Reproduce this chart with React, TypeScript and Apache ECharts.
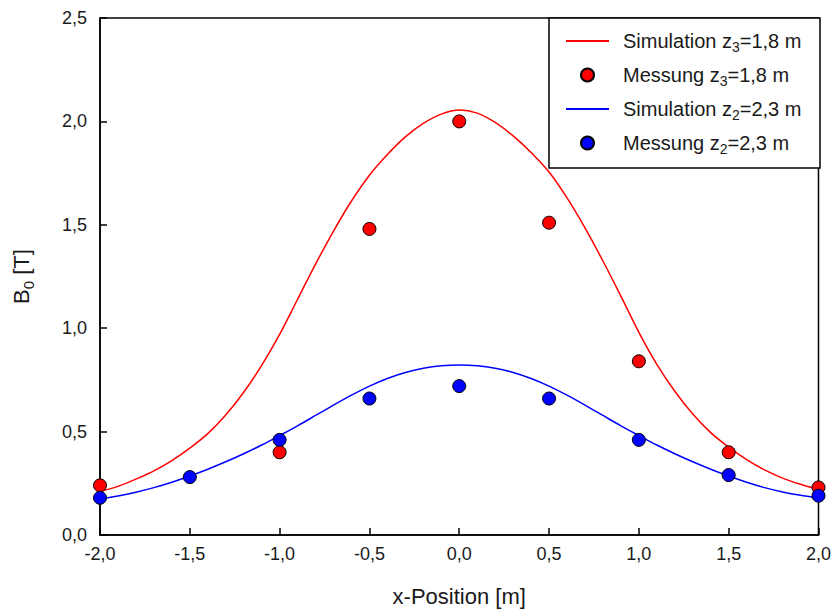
import React, { useEffect, useRef } from 'react';
import * as echarts from 'echarts';

const simX = [
  -2.0, -1.9, -1.8, -1.7, -1.6, -1.5, -1.4, -1.3, -1.2, -1.1, -1.0,
  -0.9, -0.8, -0.7, -0.6, -0.5, -0.4, -0.3, -0.2, -0.1, 0.0,
  0.1, 0.2, 0.3, 0.4, 0.5, 0.6, 0.7, 0.8, 0.9, 1.0,
  1.1, 1.2, 1.3, 1.4, 1.5, 1.6, 1.7, 1.8, 1.9, 2.0,
];
const redSim = [
  0.21, 0.235, 0.27, 0.31, 0.36, 0.42, 0.49, 0.58, 0.69, 0.82, 0.97,
  1.14, 1.31, 1.47, 1.615, 1.74, 1.84, 1.925, 1.99, 2.035, 2.055,
  2.04, 1.995, 1.93, 1.85, 1.755, 1.63, 1.485, 1.325, 1.155, 0.98,
  0.825, 0.695, 0.585, 0.495, 0.425, 0.365, 0.315, 0.275, 0.245, 0.22,
];
const blueSim = [
  0.175, 0.189, 0.207, 0.229, 0.255, 0.285, 0.318, 0.354, 0.393, 0.435, 0.481,
  0.528, 0.578, 0.628, 0.676, 0.72, 0.757, 0.786, 0.806, 0.818, 0.822,
  0.818, 0.806, 0.786, 0.757, 0.72, 0.676, 0.628, 0.578, 0.528, 0.481,
  0.435, 0.393, 0.354, 0.318, 0.285, 0.255, 0.229, 0.208, 0.192, 0.18,
];
const redMeasX = [-2.0, -1.0, -0.5, 0.0, 0.5, 1.0, 1.5, 2.0];
const redMeas = [0.24, 0.4, 1.48, 2.0, 1.51, 0.84, 0.4, 0.23];
const blueMeasX = [-2.0, -1.5, -1.0, -0.5, 0.0, 0.5, 1.0, 1.5, 2.0];
const blueMeas = [0.18, 0.28, 0.46, 0.66, 0.72, 0.66, 0.46, 0.29, 0.19];

const seriesNames = [
  'Simulation z3=1,8 m',
  'Messung z3=1,8 m',
  'Simulation z2=2,3 m',
  'Messung z2=2,3 m',
];
const legendRich = [
  'Simulation z{s|3}=1,8 m',
  'Messung z{s|3}=1,8 m',
  'Simulation z{s|2}=2,3 m',
  'Messung z{s|2}=2,3 m',
];

const FONT = 'Liberation Sans, Arial, sans-serif';
const TXT = '#1a1a1a';

const zip = (xs: number[], ys: number[]) => xs.map((x, i) => [x, ys[i]]);
const comma = (v: number) => v.toFixed(1).replace('.', ',');

export default function App() {
  const ref = useRef<HTMLDivElement>(null);
  useEffect(() => {
    const chart = echarts.init(ref.current!, null, { renderer: 'svg' });
    chart.setOption({
      animation: false,
      backgroundColor: '#ffffff',
      grid: {
        left: 100,
        top: 18,
        right: 14,
        bottom: 77,
        show: true,
        borderColor: '#000',
        borderWidth: 1.5,
        backgroundColor: 'transparent',
      },
      xAxis: {
        type: 'value',
        min: -2,
        max: 2,
        interval: 0.5,
        name: 'x-Position [m]',
        nameLocation: 'middle',
        nameGap: 50,
        nameTextStyle: { fontFamily: FONT, fontSize: 22, color: TXT },
        axisLine: { show: true, onZero: false, lineStyle: { color: '#000', width: 1.5 } },
        axisTick: { show: true, inside: true, length: 7, lineStyle: { color: '#000', width: 1.5 } },
        axisLabel: { formatter: comma, fontFamily: FONT, fontSize: 18, color: TXT, margin: 10 },
        splitLine: { show: false },
      },
      yAxis: {
        type: 'value',
        min: 0,
        max: 2.5,
        interval: 0.5,
        name: 'B{s|0} [T]',
        nameLocation: 'middle',
        nameGap: 64,
        nameTextStyle: {
          fontFamily: FONT,
          fontSize: 22,
          color: TXT,
          rich: { s: { fontFamily: FONT, fontSize: 15, color: TXT, padding: [14, 0, 0, 0] } },
        },
        axisLine: { show: true, onZero: false, lineStyle: { color: '#000', width: 1.5 } },
        axisTick: { show: true, inside: true, length: 7, lineStyle: { color: '#000', width: 1.5 } },
        axisLabel: { formatter: comma, fontFamily: FONT, fontSize: 18, color: TXT, margin: 13 },
        splitLine: { show: false },
      },
      graphic: [
        {
          type: 'rect',
          z: 3,
          shape: { x: 549, y: 18, width: 271, height: 150 },
          style: { fill: '#fff', stroke: '#000', lineWidth: 1.5 },
        },
      ],
      legend: {
        z: 10,
        orient: 'vertical',
        left: 565,
        top: 31,
        itemWidth: 43,
        itemHeight: 13,
        itemGap: 11,
        padding: 0,
        data: [
          { name: seriesNames[0], itemStyle: { opacity: 0 } },
          { name: seriesNames[1] },
          { name: seriesNames[2], itemStyle: { opacity: 0 } },
          { name: seriesNames[3] },
        ],
        formatter: (name: string) => legendRich[seriesNames.indexOf(name)],
        textStyle: {
          fontFamily: FONT,
          fontSize: 20,
          color: TXT,
          padding: [0, 0, 0, 9],
          rich: { s: { fontFamily: FONT, fontSize: 14, color: TXT, padding: [12, 0, 0, 0] } },
        },
      },
      series: [
        {
          name: seriesNames[0],
          type: 'line',
          data: zip(simX, redSim),
          symbol: 'none',
          smooth: 0.3,
          lineStyle: { color: '#ff0000', width: 1.5 },
          itemStyle: { color: '#ff0000' },
          z: 2,
        },
        {
          name: seriesNames[1],
          type: 'scatter',
          data: zip(redMeasX, redMeas),
          symbol: 'circle',
          symbolSize: 13,
          clip: false,
          itemStyle: { color: '#ff0000', opacity: 1, borderColor: '#000', borderWidth: 1 },
          z: 4,
        },
        {
          name: seriesNames[2],
          type: 'line',
          data: zip(simX, blueSim),
          symbol: 'none',
          smooth: 0.3,
          lineStyle: { color: '#0000ff', width: 1.5 },
          itemStyle: { color: '#0000ff' },
          z: 2,
        },
        {
          name: seriesNames[3],
          type: 'scatter',
          data: zip(blueMeasX, blueMeas),
          symbol: 'circle',
          symbolSize: 13,
          clip: false,
          itemStyle: { color: '#0000ff', opacity: 1, borderColor: '#000', borderWidth: 1 },
          z: 5,
        },
      ],
    });
    return () => chart.dispose();
  }, []);
  return (
    <div
      ref={ref}
      style={{ position: 'absolute', left: 0, top: 0, width: 834, height: 612 }}
    />
  );
}
